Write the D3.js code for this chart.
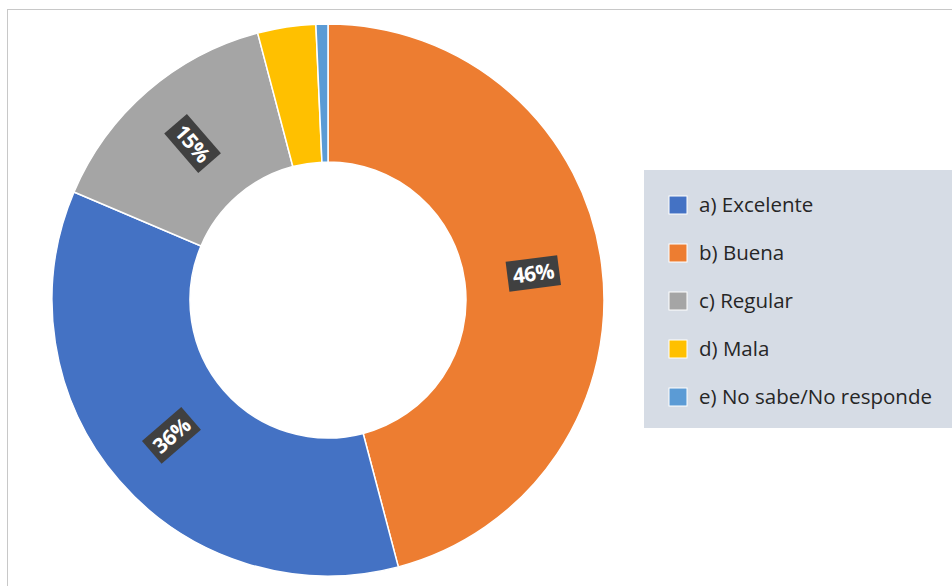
<!doctype html>
<html lang="es">
<head>
<meta charset="utf-8">
<title>Donut</title>
<script src="https://cdn.jsdelivr.net/npm/d3@7/dist/d3.min.js"></script>
<style>
  body { margin: 0; background: #fff; }
  svg { display: block; }
</style>
</head>
<body>
<div id="chart"></div>
<script>
// order as drawn clockwise from 12 o'clock
var categories = ["b) Buena", "a) Excelente", "c) Regular", "d) Mala", "e) No sabe/No responde"];
var values = [45.9, 35.5, 14.5, 3.4, 0.7];
var colors = ["#ED7D31", "#4472C4", "#A5A5A5", "#FFC000", "#5B9BD5"];
var labels = ["46%", "36%", "15%", "", ""];

// legend order
var legendItems = ["a) Excelente", "b) Buena", "c) Regular", "d) Mala", "e) No sabe/No responde"];

var W = 952, H = 586;
var cx = 328, cy = 300, rOut = 276, rIn = 138;

var svg = d3.select("#chart").append("svg").attr("width", W).attr("height", H);

// chart area border (right/bottom edges are out of frame)
svg.append("rect")
    .attr("x", 7.5).attr("y", 9.5)
    .attr("width", W + 10).attr("height", H + 10)
    .attr("fill", "none")
    .attr("stroke", "#c8c8c8")
    .attr("stroke-width", 1);

var color = d3.scaleOrdinal().domain(categories).range(colors);

var pie = d3.pie().sort(null).value(function(d, i) { return values[i]; });
var arcs = pie(categories);

var arc = d3.arc().innerRadius(rIn).outerRadius(rOut);
var mid = d3.arc().innerRadius((rIn + rOut) / 2).outerRadius((rIn + rOut) / 2);

var g = svg.append("g").attr("transform", "translate(" + cx + "," + cy + ")");

g.selectAll("path.slice")
    .data(arcs)
    .enter().append("path")
    .attr("class", "slice")
    .attr("d", arc)
    .attr("fill", function(d) { return color(d.data); })
    .attr("stroke", "#fff")
    .attr("stroke-width", 1.5);

// data labels, rotated along the radius
var lab = g.selectAll("g.lab")
    .data(arcs.filter(function(d, i) { return labels[i] !== ""; }))
    .enter().append("g")
    .attr("class", "lab")
    .attr("transform", function(d) {
        var c = mid.centroid(d);
        var a = (d.startAngle + d.endAngle) / 2 * 180 / Math.PI - 90;
        if (a > 90) a -= 180;
        return "translate(" + c[0] + "," + c[1] + ") rotate(" + a + ")";
    });

lab.append("rect")
    .attr("x", -26).attr("y", -15)
    .attr("width", 52).attr("height", 30)
    .attr("fill", "#404040");

lab.append("text")
    .attr("text-anchor", "middle")
    .attr("dy", "0.36em")
    .attr("font-family", "'Open Sans', sans-serif")
    .attr("font-weight", "bold")
    .attr("font-size", "21px")
    .attr("letter-spacing", "-0.5px")
    .attr("fill", "#fff")
    .text(function(d) { return labels[categories.indexOf(d.data)]; });

// legend
var legend = svg.append("g");
legend.append("rect")
    .attr("x", 644).attr("y", 170)
    .attr("width", W - 644).attr("height", 258)
    .attr("fill", "#D6DCE5");

var ly = d3.scalePoint().domain(legendItems).range([205, 397]);

var li = legend.selectAll("g.item")
    .data(legendItems)
    .enter().append("g")
    .attr("class", "item")
    .attr("transform", function(d) { return "translate(669," + ly(d) + ")"; });

li.append("rect")
    .attr("x", 0).attr("y", -9)
    .attr("width", 18).attr("height", 18)
    .attr("fill", function(d) { return color(d); })
    .attr("stroke", "#fff")
    .attr("stroke-width", 1);

li.append("text")
    .attr("x", 30)
    .attr("dy", "0.35em")
    .attr("font-family", "'Open Sans', sans-serif")
    .attr("font-size", "20.5px")
    .attr("fill", "#262626")
    .text(function(d) { return d; });
</script>
</body>
</html>
